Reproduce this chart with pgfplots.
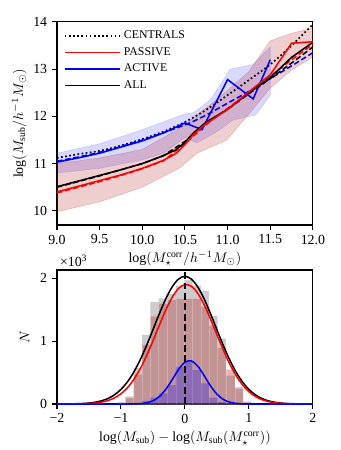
\documentclass[border=0pt]{standalone}
\usepackage{fontspec}
\setmainfont{Liberation Serif}
\usepackage{pgfplots}
\pgfplotsset{compat=1.18}

\definecolor{bandred}{RGB}{178,34,34}
\definecolor{histgray}{RGB}{128,128,128}

\pgfplotsset{
  base/.style={
    scale only axis,
    axis line style={line width=0.8pt},
    tick align=outside,
    tick pos=left,
    major tick length=3.5pt,
    every tick/.style={line width=0.8pt, black},
    tick label style={font=\fontsize{10}{12}\selectfont},
    label style={font=\fontsize{10}{12}\selectfont},
    /pgf/number format/assume math mode=true,
  },
  legline/.style={legend image code/.code={\draw[##1] (0pt,0pt) -- (40pt,0pt);}},
}

\begin{document}
\begin{tikzpicture}
\path[use as bounding box] (-41pt,-162pt) rectangle (203.8pt,162pt);

% top panel: halo mass vs stellar mass
\begin{axis}[base,
  at={(0pt,0pt)}, anchor=south west,
  width=184.3pt, height=146.2pt,
  xmin=9, xmax=12, ymin=9.7, ymax=14,
  xtick={9,9.5,10,10.5,11,11.5,12},
  xticklabel style={/pgf/number format/.cd, fixed, fixed zerofill, precision=1},
  ytick={10,11,12,13,14},
  xlabel={$\log(M_\star^{\rm corr}/h^{-1}M_\odot)$},
  ylabel={$\log(M_{\rm sub}/h^{-1}M_\odot)$},
  xlabel style={yshift=2pt},
  ylabel style={yshift=-2pt},
  legend style={at={(0.01,0.985)}, anchor=north west, draw=none, fill=none,
    font=\fontsize{8.5}{10}\selectfont, row sep=0.8pt,
    cells={anchor=west}},
  legline,
]
% active band
\addplot[draw=blue, draw opacity=0.15, fill=blue, fill opacity=0.15, forget plot] coordinates {
 (9,11.22) (9.5,11.42) (10,11.72) (10.5,12.05) (10.6,12.08) (10.8,12.35) (11.03,13.0) (11.3,13.1) (11.5,13.47)
 (11.5,12.45) (11.33,12.03) (11.06,11.92) (10.87,11.67) (10.64,11.44) (10.5,11.55) (10.25,11.22) (10,11.08) (9.5,10.9) (9,10.8)
} -- cycle;
% passive band
\addplot[draw=bandred, draw opacity=0.25, fill=bandred, fill opacity=0.22, forget plot] coordinates {
 (9,11.0) (9.5,11.12) (10,11.3) (10.44,11.75) (10.87,12.35) (11.0,12.55) (11.25,12.95) (11.5,13.6) (11.75,13.76) (12,13.87)
 (12,13.26) (11.75,12.98) (11.5,12.6) (11.25,12.05) (10.99,11.5) (10.64,11.22) (10.44,10.91) (10,10.5) (9.5,10.19) (9,9.98)
} -- cycle;

% centrals
\addplot[black, line width=1.2pt, dash pattern=on 1.2pt off 1.8pt, smooth, forget plot] coordinates {
 (9,11.12) (9.25,11.2) (9.5,11.27) (9.75,11.38) (10,11.52) (10.25,11.68) (10.5,11.88)
 (10.75,12.14) (11,12.45) (11.25,12.77) (11.5,13.1) (11.75,13.5) (12,13.95)
};
% fits
\addplot[blue, line width=1.1pt, dash pattern=on 4pt off 2pt, smooth, forget plot] coordinates {
 (9,11.05) (9.5,11.24) (10,11.5) (10.5,11.82) (10.75,12.03) (11,12.28) (11.25,12.53) (11.5,12.8) (11.75,13.07) (12,13.35)
};
\addplot[black, line width=1.1pt, dash pattern=on 4pt off 2pt, forget plot] coordinates {
 (9,10.5) (9.25,10.62) (9.5,10.74) (9.75,10.87) (10,11.0) (10.25,11.17) (10.5,11.47) (10.75,11.85)
 (11,12.15) (11.25,12.48) (11.5,12.8) (11.75,13.13) (12,13.47)
};
\addplot[red, line width=1.1pt, dash pattern=on 4pt off 2pt, forget plot] coordinates {
 (9,10.38) (9.25,10.5) (9.5,10.62) (9.75,10.75) (10,10.89) (10.25,11.06) (10.5,11.42) (10.75,11.83)
 (11,12.17) (11.25,12.5) (11.5,12.85) (11.75,13.2) (12,13.53)
};
% medians
\addplot[blue, line width=1.1pt, forget plot] coordinates {
 (9,11.03) (9.25,11.12) (9.5,11.22) (9.75,11.35) (10,11.48) (10.25,11.65) (10.5,11.86)
 (10.7,11.72) (11.0,12.78) (11.3,12.37) (11.5,13.2)
};
\addplot[black, line width=1.1pt, forget plot] coordinates {
 (9,10.51) (9.25,10.63) (9.5,10.75) (9.75,10.87) (10,11.0) (10.25,11.17) (10.4,11.3) (10.5,11.45)
 (10.6,11.65) (10.75,11.88) (11,12.15) (11.25,12.5) (11.5,12.82) (11.75,13.25) (12,13.57)
};
\addplot[red, line width=1.1pt, forget plot] coordinates {
 (9,10.4) (9.25,10.52) (9.5,10.64) (9.75,10.76) (10,10.9) (10.25,11.07) (10.4,11.22) (10.5,11.4)
 (10.6,11.62) (10.75,11.85) (11,12.15) (11.25,12.52) (11.5,12.88) (11.75,13.55) (12,13.58)
};

\addlegendimage{black, line width=1.2pt, dash pattern=on 1.2pt off 1.8pt}
\addlegendentry{CENTRALS}
\addlegendimage{red, line width=1.1pt}
\addlegendentry{PASSIVE}
\addlegendimage{blue, line width=1.1pt}
\addlegendentry{ACTIVE}
\addlegendimage{black, line width=1.1pt}
\addlegendentry{ALL}
\end{axis}

% bottom panel: residual distribution
\begin{axis}[base,
  at={(0pt,-128.9pt)}, anchor=south west,
  width=184.3pt, height=96.5pt,
  xmin=-2, xmax=2, ymin=0, ymax=2.13,
  clip mode=individual,
  xtick={-2,-1,0,1,2}, xticklabels={−2,−1,0,1,2},
  ytick={0,1,2},
  xlabel={$\log(M_{\rm sub})-\log(M_{\rm sub}(M_\star^{\rm corr}))$},
  xlabel style={yshift=1pt},
  ylabel={$N$},
  ylabel style={yshift=1pt},
]
\addplot[ybar interval, fill=histgray, fill opacity=0.4, draw=none] coordinates {
 (-1.06,0.03) (-0.93,0.12) (-0.80,0.57) (-0.67,1.10) (-0.54,1.62) (-0.41,1.68) (-0.27,1.75)
 (-0.14,1.88) (-0.01,1.97) (0.12,1.88) (0.25,1.80) (0.38,1.40) (0.51,1.04) (0.64,0.45)
 (0.78,0.27) (0.91,0.04) (1.04,0.04)
};
\addplot[ybar interval, fill=bandred, fill opacity=0.33, draw=white, draw opacity=0.25] coordinates {
 (-1.06,0.01) (-0.93,0.10) (-0.80,0.48) (-0.67,0.95) (-0.54,1.40) (-0.41,1.60) (-0.27,1.66)
 (-0.14,1.68) (-0.01,1.68) (0.12,1.68) (0.25,1.55) (0.38,1.25) (0.51,0.90) (0.64,0.55)
 (0.78,0.25) (0.91,0.03) (1.04,0.03)
};
\addplot[ybar interval, fill=blue, fill opacity=0.28, draw=none] coordinates {
 (-0.80,0.02) (-0.67,0.05) (-0.54,0.10) (-0.41,0.17) (-0.27,0.30) (-0.14,0.59) (-0.01,0.67)
 (0.12,0.54) (0.25,0.33) (0.38,0.10) (0.51,0.03) (0.64,0.01) (0.78,0.01)
};
% gaussian fits
\addplot[black, line width=1.1pt, smooth] coordinates {
 (-2,0) (-1.8,0.002) (-1.6,0.008) (-1.5,0.015) (-1.4,0.029) (-1.3,0.052) (-1.2,0.089) (-1.1,0.147)
 (-1.0,0.232) (-0.9,0.350) (-0.8,0.506) (-0.7,0.701) (-0.6,0.929) (-0.5,1.180) (-0.4,1.435)
 (-0.3,1.670) (-0.2,1.861) (-0.1,1.986) (0,2.03) (0.1,1.986) (0.2,1.861) (0.3,1.670) (0.4,1.435)
 (0.5,1.180) (0.6,0.929) (0.7,0.701) (0.8,0.506) (0.9,0.350) (1.0,0.232) (1.1,0.147) (1.2,0.089)
 (1.3,0.052) (1.4,0.029) (1.5,0.015) (1.6,0.008) (1.8,0.002) (2,0)
};
\addplot[red, line width=1.1pt, smooth] coordinates {
 (-2,0) (-1.8,0.001) (-1.6,0.004) (-1.5,0.008) (-1.4,0.016) (-1.3,0.031) (-1.2,0.056) (-1.1,0.098)
 (-1.0,0.163) (-0.9,0.257) (-0.8,0.388) (-0.7,0.558) (-0.6,0.766) (-0.5,1.003) (-0.4,1.252)
 (-0.3,1.492) (-0.2,1.695) (-0.1,1.837) (0,1.898) (0.1,1.871) (0.2,1.760) (0.3,1.579) (0.4,1.351)
 (0.5,1.102) (0.6,0.858) (0.7,0.637) (0.8,0.451) (0.9,0.305) (1.0,0.196) (1.1,0.121) (1.2,0.071)
 (1.3,0.040) (1.4,0.021) (1.5,0.011) (1.6,0.005) (1.8,0.001) (2,0)
};
\addplot[blue, line width=1.1pt, smooth] coordinates {
 (-2,0) (-1,0) (-0.8,0.002) (-0.7,0.006) (-0.6,0.019) (-0.5,0.051) (-0.4,0.118) (-0.3,0.231)
 (-0.2,0.385) (-0.1,0.548) (0,0.664) (0.1,0.685) (0.2,0.603) (0.3,0.452) (0.4,0.289) (0.5,0.157)
 (0.6,0.073) (0.7,0.029) (0.8,0.010) (0.9,0.003) (1.1,0) (2,0)
};
\addplot[black, line width=1.8pt, dash pattern=on 5pt off 2.5pt] coordinates {(0,0) (0,2.13)};
\end{axis}
\node[anchor=south west, inner sep=0pt, font=\fontsize{10}{12}\selectfont] at (2pt,-30.5pt) {×10\textsuperscript{3}};
\end{tikzpicture}
\end{document}
